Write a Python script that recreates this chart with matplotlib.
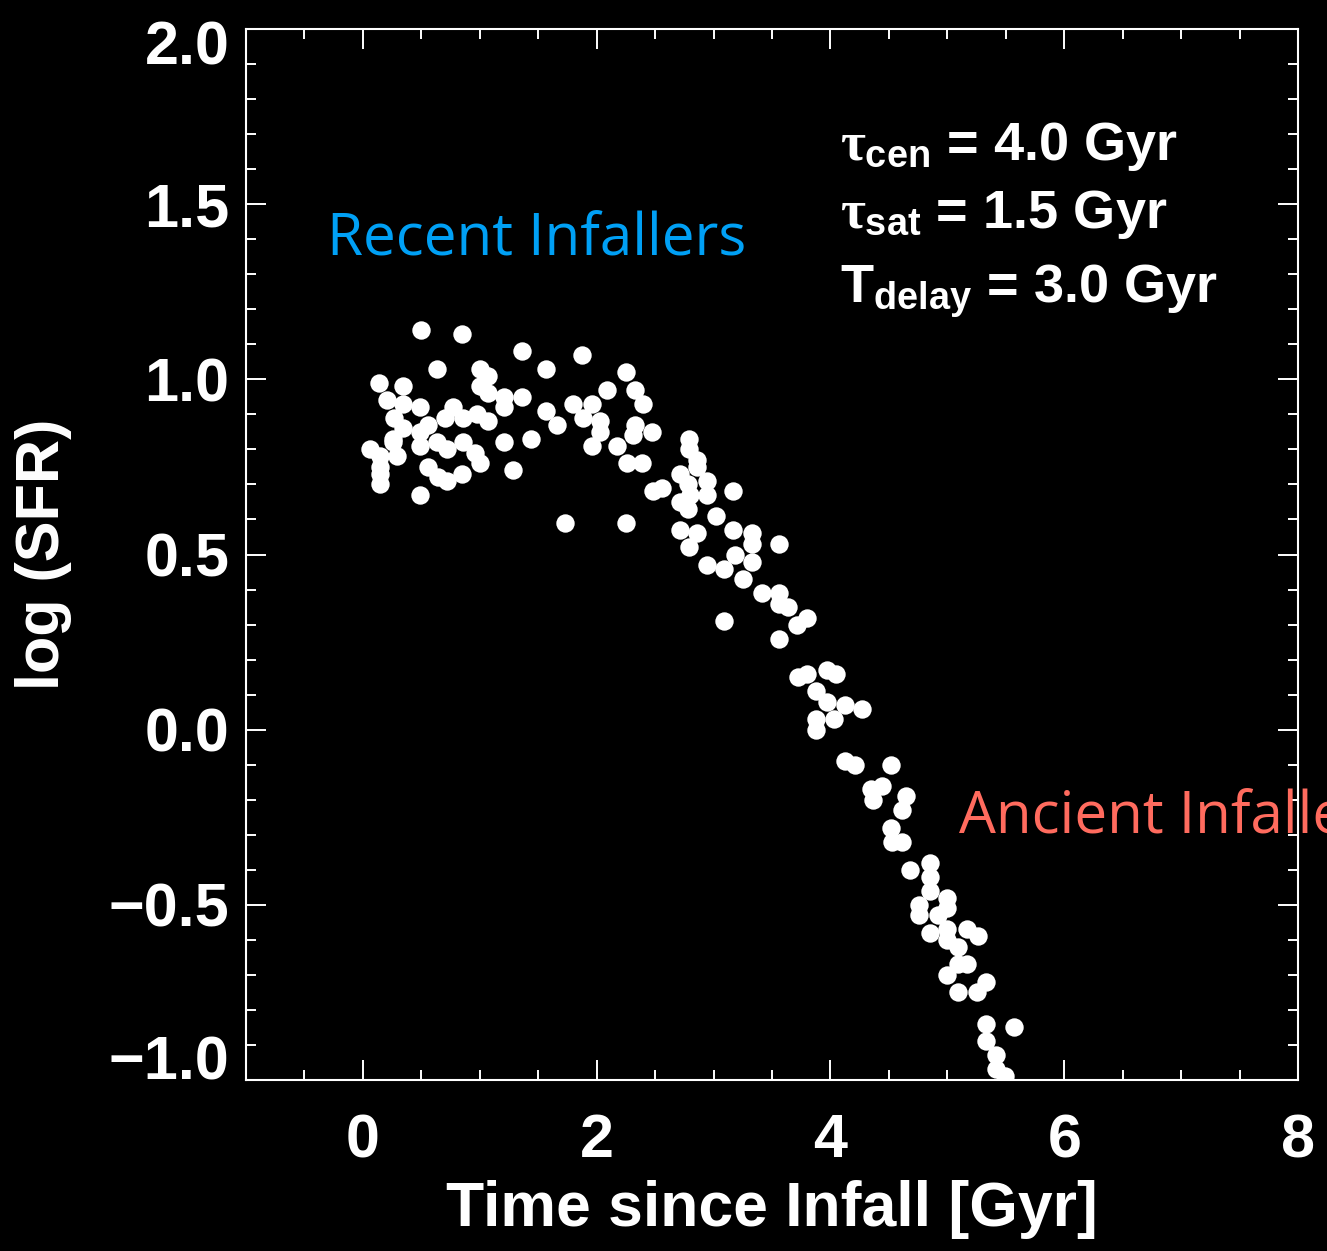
import matplotlib
matplotlib.use("Agg")
import matplotlib.pyplot as plt
from matplotlib.transforms import ScaledTranslation

# time since infall [Gyr] and log SFR for each satellite
t_infall = [
    0.50, 0.85, 1.36, 1.87, 0.63, 1.57, 2.25, 0.14, 0.34, 1.00,
    1.07, 1.00, 1.07, 2.09, 2.33, 2.40, 1.21, 1.36, 0.21, 0.34,
    0.49, 0.77, 1.80, 1.96, 1.57, 1.21, 0.27, 0.70, 0.86, 0.98,
    1.07, 1.66, 1.88, 2.03, 2.33, 2.47, 0.34, 0.56, 0.49, 0.26,
    2.31, 0.06, 0.26, 0.49, 0.63, 0.72, 0.86, 0.96, 1.21, 1.44,
    1.96, 2.17, 0.15, 0.29, 1.00, 2.26, 2.39, 0.56, 0.15, 0.15,
    0.15, 0.64, 0.72, 0.85, 1.28, 0.49, 2.48, 2.56, 2.71, 2.71,
    1.73, 2.25, 2.03, 2.79, 2.79, 2.86, 2.86, 2.78, 2.94, 2.80,
    2.94, 3.17, 2.78, 2.71, 2.86, 3.02, 2.79, 2.94, 3.17, 3.33,
    3.33, 3.56, 3.09, 3.18, 3.33, 3.25, 3.41, 3.56, 3.56, 3.64,
    3.80, 3.71, 3.09, 3.56, 3.72, 3.80, 3.97, 4.05, 3.88, 3.97,
    4.12, 4.27, 4.03, 3.88, 3.88, 4.12, 4.21, 4.52, 4.44, 4.35,
    4.36, 4.65, 4.61, 4.52, 4.53, 4.61, 4.68, 4.85, 4.85, 4.85,
    4.76, 4.76, 5.00, 5.00, 4.92, 4.85, 5.00, 5.00, 5.09, 5.17,
    5.26, 5.09, 5.17, 5.00, 5.09, 5.25, 5.33, 5.33, 5.57, 5.33,
    5.42, 5.42, 5.49,
]
log_sfr = [
    1.14, 1.13, 1.08, 1.07, 1.03, 1.03, 1.02, 0.99, 0.98, 1.03,
    1.01, 0.98, 0.96, 0.97, 0.97, 0.93, 0.95, 0.95, 0.94, 0.93,
    0.92, 0.92, 0.93, 0.93, 0.91, 0.92, 0.89, 0.89, 0.89, 0.90,
    0.88, 0.87, 0.89, 0.88, 0.87, 0.85, 0.86, 0.87, 0.85, 0.83,
    0.84, 0.80, 0.82, 0.81, 0.82, 0.80, 0.82, 0.79, 0.82, 0.83,
    0.81, 0.81, 0.78, 0.78, 0.76, 0.76, 0.76, 0.75, 0.75, 0.73,
    0.70, 0.72, 0.71, 0.73, 0.74, 0.67, 0.68, 0.69, 0.73, 0.65,
    0.59, 0.59, 0.85, 0.83, 0.80, 0.77, 0.75, 0.70, 0.71, 0.67,
    0.67, 0.68, 0.63, 0.57, 0.56, 0.61, 0.52, 0.47, 0.57, 0.56,
    0.53, 0.53, 0.46, 0.50, 0.48, 0.43, 0.39, 0.39, 0.36, 0.35,
    0.32, 0.30, 0.31, 0.26, 0.15, 0.16, 0.17, 0.16, 0.11, 0.08,
    0.07, 0.06, 0.03, 0.03, 0.00, -0.09, -0.10, -0.10, -0.16, -0.17,
    -0.20, -0.19, -0.23, -0.28, -0.32, -0.32, -0.40, -0.38, -0.42, -0.46,
    -0.50, -0.53, -0.48, -0.51, -0.53, -0.58, -0.57, -0.60, -0.62, -0.57,
    -0.59, -0.67, -0.67, -0.70, -0.75, -0.75, -0.72, -0.84, -0.85, -0.89,
    -0.93, -0.97, -0.99,
]

xticks = [0, 2, 4, 6, 8]
yticks = [-1.0, -0.5, 0.0, 0.5, 1.0, 1.5, 2.0]

plt.rcParams.update({
    "font.family": ["Liberation Sans", "DejaVu Sans"],
    "font.weight": "bold",
    "text.color": "white",
    "xtick.direction": "in",
    "ytick.direction": "in",
    "xtick.top": True,
    "ytick.right": True,
    "xtick.major.size": 14.4,
    "ytick.major.size": 14.4,
    "xtick.minor.size": 7.2,
    "ytick.minor.size": 7.2,
    "xtick.major.width": 1.4,
    "ytick.major.width": 1.4,
    "xtick.minor.width": 1.4,
    "ytick.minor.width": 1.4,
    "xtick.color": "white",
    "ytick.color": "white",
    "mathtext.fontset": "custom",
    "mathtext.rm": "Liberation Sans:bold",
    "mathtext.it": "Liberation Serif",
    "mathtext.bf": "Liberation Sans:bold",
})

fig = plt.figure(figsize=(13.27, 12.51), dpi=100, facecolor="black")
ax = fig.add_axes([0.1854, 0.1367, 0.7928, 0.8401], facecolor="black")

ax.scatter(t_infall, log_sfr, s=175, color="white", linewidths=0, zorder=3)

ax.set_xlim(-1, 8)
ax.set_ylim(-1, 2)
ax.set_xticks(xticks)
ax.set_yticks(yticks)
ax.set_xticks([v / 2 for v in range(-2, 16)], minor=True)
ax.set_yticks([v / 10 for v in range(-10, 21)], minor=True)
ax.tick_params(axis="x", which="major", labelsize=44, pad=24)
ax.tick_params(axis="y", which="major", labelsize=44, pad=12)
for spine in ax.spines.values():
    spine.set_color("white")
    spine.set_linewidth(1.5)

# keep the end labels of the y axis inside the frame
ylabels = ax.get_yticklabels()
ylabels[0].set_verticalalignment("baseline")
ylabels[-1].set_verticalalignment("top")
ylabels[-1].set_transform(ylabels[-1].get_transform()
                          + ScaledTranslation(0, 6 / 72, fig.dpi_scale_trans))

ax.set_xlabel("Time since Infall [Gyr]", fontsize=45, fontweight="bold",
              color="white", labelpad=7)
ax.set_ylabel("log (SFR)", fontsize=44, fontweight="bold",
              color="white", labelpad=26)

ax.text(-0.31, 1.354, "Recent Infallers", fontsize=42, family="Open Sans",
        fontweight="normal", color="#00a0f5", va="baseline", ha="left")
ax.text(5.10, -0.297, "Ancient Infallers", fontsize=42, family="Open Sans",
        fontweight="normal", color="#ff6b5e", va="baseline", ha="left",
        clip_on=False)

params = [
    (r"$\tau_{\mathrm{cen}}$ = 4.0 Gyr", 1.626),
    (r"$\tau_{\mathrm{sat}}$ = 1.5 Gyr", 1.431),
    (r"$\mathrm{T}_{\mathrm{delay}}$ = 3.0 Gyr", 1.220),
]
for label, yb in params:
    ax.text(4.08, yb, label, fontsize=39, fontweight="bold", color="white",
            va="baseline", ha="left")

fig.savefig("out.png", dpi=100, facecolor="black")
